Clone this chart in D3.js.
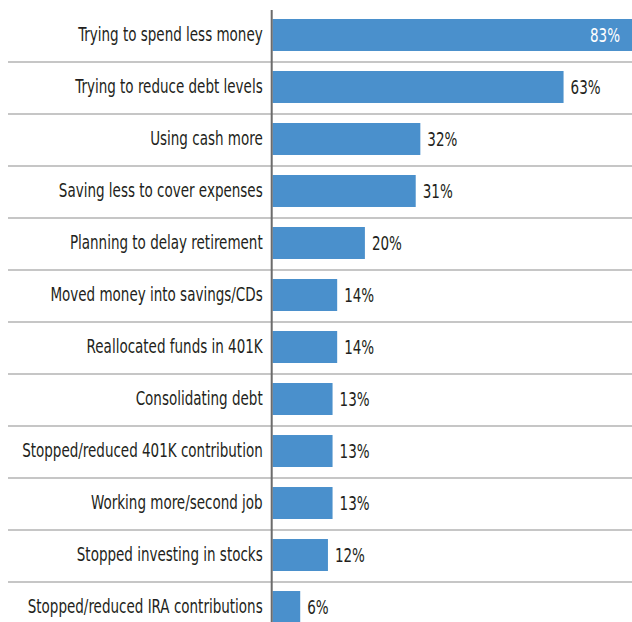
<!DOCTYPE html>
<html>
<head>
<meta charset="utf-8">
<script src="https://cdn.jsdelivr.net/npm/d3@7/dist/d3.min.js"></script>
<style>
  html, body { margin: 0; padding: 0; background: #ffffff; }
  svg { display: block; }
  text { font-family: "DejaVu Sans Condensed", "DejaVu Sans", sans-serif; }
</style>
</head>
<body>
<svg id="chart" width="632" height="622"></svg>
<script>
// Financial behaviour changes, share of respondents (%)
const categories = [
  "Trying to spend less money",
  "Trying to reduce debt levels",
  "Using cash more",
  "Saving less to cover expenses",
  "Planning to delay retirement",
  "Moved money into savings/CDs",
  "Reallocated funds in 401K",
  "Consolidating debt",
  "Stopped/reduced 401K contribution",
  "Working more/second job",
  "Stopped investing in stocks",
  "Stopped/reduced IRA contributions"
];
const values = [83, 63, 32, 31, 20, 14, 14, 13, 13, 13, 12, 6];
const valueLabels = ["83%", "63%", "32%", "31%", "20%", "14%", "14%", "13%", "13%", "13%", "12%", "6%"];

const W = 632, H = 622;
const x0 = 272.5;
const FONT = 19;      // text size
const NARROW = 0.79;  // horizontal squeeze for a condensed look
const svg = d3.select("#chart");

const x = d3.scaleLinear().domain([0, 100]).range([x0, x0 + 462]);
const y = d3.scaleBand().domain(categories).range([19, 623]).paddingInner(0.385).paddingOuter(0);
const bw = y.bandwidth();
const gap = y.step() - bw;

// horizontal separators between rows
svg.append("g")
  .selectAll("line")
  .data(categories.slice(0, -1))
  .join("line")
  .attr("x1", 8).attr("x2", W)
  .attr("y1", d => y(d) + bw + gap * 0.55)
  .attr("y2", d => y(d) + bw + gap * 0.55)
  .attr("stroke", "#b3b3b3")
  .attr("stroke-width", 1.5);

// bars
svg.append("g")
  .selectAll("rect")
  .data(values)
  .join("rect")
  .attr("x", x(0))
  .attr("y", (d, i) => y(categories[i]))
  .attr("width", d => x(d) - x(0))
  .attr("height", bw)
  .attr("fill", "#4a90cc");

// category axis
const axis = d3.axisLeft(y).tickSize(0).tickPadding(9 / NARROW);
const ag = svg.append("g").attr("transform", `translate(${x0 - 0.8},0)`).call(axis);
ag.select(".domain").remove();
ag.selectAll("text")
  .attr("font-size", FONT)
  .attr("fill", "#231f20")
  .attr("transform", `scale(${NARROW},1)`)
  .style("font-family", "'DejaVu Sans Condensed', 'DejaVu Sans', sans-serif");

// vertical baseline
svg.append("line")
  .attr("x1", x0 - 0.8).attr("x2", x0 - 0.8)
  .attr("y1", 10).attr("y2", H)
  .attr("stroke", "#6b6b6b")
  .attr("stroke-width", 2);

// value labels: inside the bar when it runs past the edge
svg.append("g")
  .selectAll("text")
  .data(values)
  .join("text")
  .attr("transform", (d, i) => {
    const tx = x(d) > W ? W - 12 : x(d) + 7;
    return `translate(${tx},${y(categories[i]) + bw / 2}) scale(${NARROW},1)`;
  })
  .attr("dy", "0.35em")
  .attr("text-anchor", d => x(d) > W ? "end" : "start")
  .attr("font-size", FONT)
  .attr("fill", d => x(d) > W ? "#ffffff" : "#231f20")
  .text((d, i) => valueLabels[i]);
</script>
</body>
</html>
